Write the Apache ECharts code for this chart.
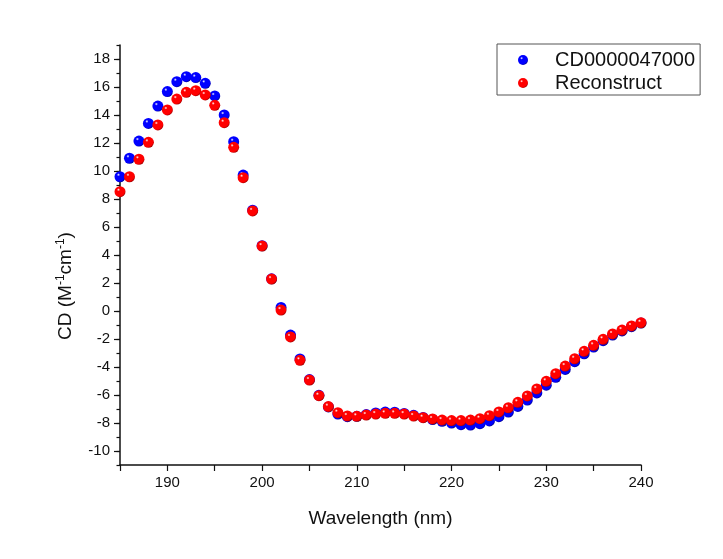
<!DOCTYPE html>
<html>
<head>
<meta charset="utf-8">
<title>CD spectrum</title>
<script src="https://cdn.jsdelivr.net/npm/echarts@6/dist/echarts.min.js"></script>
<style>
  html, body { margin: 0; padding: 0; background: #ffffff; }
  #chart { width: 723px; height: 559px; }
</style>
</head>
<body>
<div id="chart"></div>
<script>
// Wavelengths (nm), one reading per nanometre
const wavelengths = [185, 186, 187, 188, 189, 190, 191, 192, 193, 194, 195, 196, 197, 198, 199,
  200, 201, 202, 203, 204, 205, 206, 207, 208, 209, 210, 211, 212, 213, 214, 215, 216, 217, 218, 219,
  220, 221, 222, 223, 224, 225, 226, 227, 228, 229, 230, 231, 232, 233, 234, 235, 236, 237, 238, 239, 240];

// Measured spectrum
const measured = [9.59, 10.91, 12.14, 13.40, 14.64, 15.67, 16.38, 16.74, 16.67, 16.26, 15.36, 14.00, 12.09, 9.71, 7.20,
  4.66, 2.30, 0.25, -1.72, -3.42, -4.90, -6.02, -6.85, -7.36, -7.55, -7.52, -7.40, -7.28, -7.22, -7.23, -7.32, -7.45, -7.60, -7.75, -7.88,
  -8.00, -8.12, -8.15, -8.05, -7.85, -7.55, -7.22, -6.82, -6.36, -5.85, -5.30, -4.74, -4.17, -3.62, -3.06, -2.58, -2.12, -1.72, -1.42, -1.12, -0.86];

// Reconstructed spectrum
const reconstructed = [8.52, 9.59, 10.84, 12.05, 13.29, 14.36, 15.14, 15.62, 15.74, 15.43, 14.69, 13.45, 11.69, 9.52, 7.15,
  4.64, 2.28, 0.07, -1.85, -3.52, -4.93, -6.05, -6.83, -7.26, -7.50, -7.52, -7.43, -7.36, -7.31, -7.31, -7.36, -7.50, -7.62, -7.71, -7.79,
  -7.83, -7.83, -7.79, -7.69, -7.48, -7.21, -6.91, -6.52, -6.07, -5.57, -5.02, -4.48, -3.93, -3.41, -2.88, -2.45, -2.02, -1.64, -1.36, -1.07, -0.84];

const seriesNames = ['CD0000047000', 'Reconstruct'];
const xTickLabels = [190, 200, 210, 220, 230, 240];
const yTickLabels = [-10, -8, -6, -4, -2, 0, 2, 4, 6, 8, 10, 12, 14, 16, 18];

// shaded ball fill: white highlight upper-left, saturated body, darker rim
function sphere(base, dark) {
  return {
    type: 'radial', x: 0.36, y: 0.32, r: 0.72,
    colorStops: [
      { offset: 0, color: '#ffffff' },
      { offset: 0.2, color: base },
      { offset: 0.8, color: base },
      { offset: 1, color: dark }
    ]
  };
}

const font = 'Liberation Sans, Arial, sans-serif';
const chart = echarts.init(document.getElementById('chart'), null, { renderer: 'canvas' });

chart.setOption({
  backgroundColor: '#ffffff',
  animation: false,
  grid: { left: 120, top: 45, right: 82, bottom: 94, containLabel: false },
  legend: {
    orient: 'vertical',
    left: 497,
    top: 44,
    padding: [6, 5, 2, 21],
    itemGap: 3,
    itemWidth: 10,
    itemHeight: 10,
    icon: 'circle',
    borderColor: '#555',
    borderWidth: 1,
    backgroundColor: '#ffffff',
    textStyle: { fontFamily: font, fontSize: 20, color: '#111', lineHeight: 20, padding: [0, 0, 0, 22] },
    data: seriesNames
  },
  xAxis: {
    type: 'value',
    min: 185,
    max: 240,
    interval: 5,
    name: 'Wavelength (nm)',
    nameLocation: 'middle',
    nameGap: 44,
    nameTextStyle: { fontFamily: font, fontSize: 19, color: '#111' },
    axisLine: { show: true, onZero: false, lineStyle: { color: '#111', width: 1.5 } },
    axisTick: { show: true, inside: false, length: 6, lineStyle: { color: '#111', width: 1.2 } },
    axisLabel: {
      fontFamily: font, fontSize: 15, color: '#111', margin: 10,
      formatter: v => (xTickLabels.indexOf(v) >= 0 ? String(v) : '')
    },
    splitLine: { show: false }
  },
  yAxis: [
    {
      type: 'value',
      min: -11,
      max: 19,
      position: 'left',
      name: 'CD (M{sup|-1}cm{sup|-1})',
      nameLocation: 'middle',
      nameGap: 44,
      nameRotate: 90,
      nameTextStyle: {
        fontFamily: font, fontSize: 19, color: '#111', padding: [0, 62, 0, 0],
        rich: { sup: { fontFamily: font, fontSize: 12, color: '#111', verticalAlign: 'top', padding: [0, 0, 9, 0] } }
      },
      axisLine: { show: true, onZero: false, lineStyle: { color: '#111', width: 1.5 } },
      axisTick: { show: true, inside: false, length: 6, customValues: yTickLabels, lineStyle: { color: '#111', width: 1.2 } },
      axisLabel: { fontFamily: font, fontSize: 15, color: '#111', margin: 10, customValues: yTickLabels },
      splitLine: { show: false }
    },
    {
      // unit ticks between the labelled ones
      type: 'value',
      min: -11,
      max: 19,
      interval: 1,
      position: 'left',
      offset: 0,
      axisLine: { show: false },
      axisTick: { show: true, inside: false, length: 3.5, lineStyle: { color: '#111', width: 1.2 } },
      axisLabel: { show: false },
      splitLine: { show: false }
    }
  ],
  series: [
    {
      name: seriesNames[0],
      type: 'scatter',
      yAxisIndex: 0,
      symbol: 'circle',
      symbolSize: 11,
      clip: true,
      itemStyle: { color: sphere('#0000ff', '#000090'), opacity: 1 },
      data: wavelengths.map((w, i) => [w, measured[i]])
    },
    {
      name: seriesNames[1],
      type: 'scatter',
      yAxisIndex: 0,
      symbol: 'circle',
      symbolSize: 11,
      clip: true,
      itemStyle: { color: sphere('#ff0000', '#a00000'), opacity: 1 },
      data: wavelengths.map((w, i) => [w, reconstructed[i]])
    }
  ]
});
</script>
</body>
</html>
